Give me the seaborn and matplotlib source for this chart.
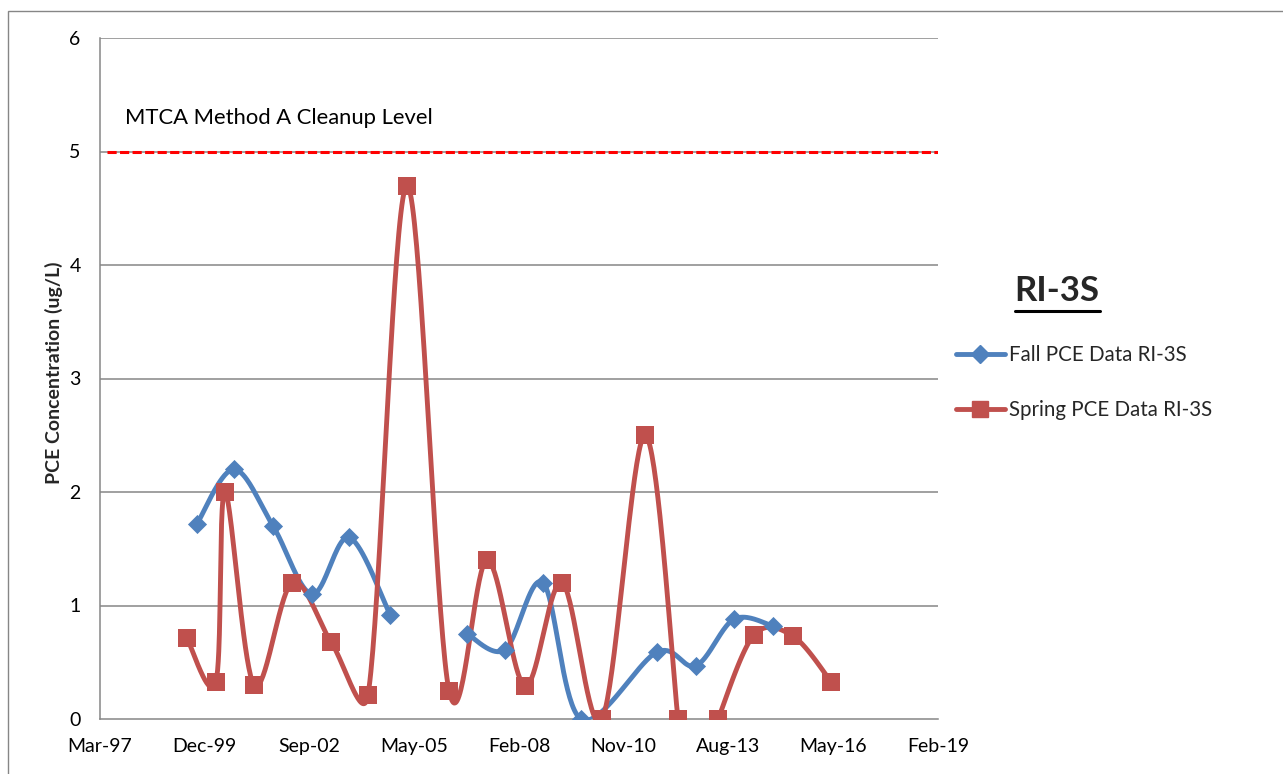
import numpy as np
import pandas as pd
import matplotlib
matplotlib.use("Agg")
import matplotlib.pyplot as plt
import matplotlib.dates as mdates
from matplotlib.lines import Line2D
from matplotlib.patches import Rectangle
import seaborn as sns

# ---------------- data ----------------
fall_dates = ["1999-09-23", "2000-09-10", "2001-09-18", "2002-09-25", "2003-09-13",
              "2004-10-08", "2005-10-01", "2006-10-14", "2007-10-11", "2008-10-08",
              "2009-10-06", "2011-10-01", "2012-10-08", "2013-10-06", "2014-10-13"]
fall_values = [1.72, 2.2, 1.7, 1.1, 1.6, 0.92, None, 0.75, 0.61, 1.2, 0.0, 0.59, 0.47,
               0.88, 0.82]

spring_dates = ["1999-06-19", "2000-03-22", "2000-06-16", "2001-03-20", "2002-03-18",
                "2003-03-25", "2004-03-12", "2005-03-20", "2006-04-25", "2007-04-22",
                "2008-04-19", "2009-04-07", "2010-04-24", "2011-06-09", "2012-04-19",
                "2012-10-15", "2013-05-06", "2014-04-14", "2015-04-22", "2016-04-19"]
spring_values = [0.71, 0.33, 2.0, 0.30, 1.2, 0.68, 0.21, 4.7, 0.25, 1.4, 0.29, 1.2,
                 0.0, 2.5, 0.0, None, 0.0, 0.74, 0.73, 0.33]

cleanup_level = 5.0
cleanup_label = "MTCA Method A Cleanup Level"
fall_label = "Fall PCE Data RI-3S"
spring_label = "Spring PCE Data RI-3S"
well_title = "RI-3S"
y_label = "PCE Concentration (ug/L)"
y_ticks = [0, 1, 2, 3, 4, 5, 6]
x_axis_start = "1997-03-11"
x_major_days = 1000
x_tick_count = 9

# ---------------- style ----------------
W, H = 1283, 774
sns.set_theme(style="white")
plt.rcParams['font.family'] = ['Lato', 'DejaVu Sans']

BLUE = "#4F81BD"
RED = "#C0504D"
GRID = "#868686"

fig = plt.figure(figsize=(W / 100, H / 100), dpi=100)
fig.patch.set_facecolor("white")
ax_l, ax_r, ax_t, ax_b = 100, 938, 38, 719
ax = fig.add_axes([ax_l / W, 1 - ax_b / H, (ax_r - ax_l) / W, (ax_b - ax_t) / H])

x0 = mdates.date2num(pd.Timestamp(x_axis_start))
xmax = x0 + x_major_days * (x_tick_count - 1)
ymax = 6.0
px_per_day = (ax_r - ax_l) / (xmax - x0)
px_per_unit = (ax_b - ax_t) / ymax


def _arm(vec, chord, limit=0.5):
    n = np.hypot(*vec)
    lim = limit * chord
    if n > lim and n > 0:
        vec = vec * (lim / n)
    return vec


def smooth_segments(dates, values):
    """Split at gaps and build Excel-like smoothed (Catmull-Rom Bezier) curves."""
    xs = mdates.date2num(pd.to_datetime(dates))
    segs, cur = [], []
    for x, v in zip(xs, values):
        if v is None:
            if cur:
                segs.append(cur)
            cur = []
        else:
            cur.append((x, v))
    if cur:
        segs.append(cur)
    rows = []
    for si, seg in enumerate(segs):
        P = np.array([[(x - x0) * px_per_day, v * px_per_unit] for x, v in seg])
        n = len(P)
        if n == 1:
            pts = P
        else:
            pts = []
            for i in range(n - 1):
                p0 = P[i - 1] if i > 0 else P[i]
                p1, p2 = P[i], P[i + 1]
                p3 = P[i + 2] if i + 2 < n else P[i + 1]
                chord = np.hypot(*(p2 - p1))
                c1 = p1 + _arm((p2 - p0) / 6.0, chord)
                c2 = p2 - _arm((p3 - p1) / 6.0, chord)
                t = np.linspace(0, 1, 40)[:, None]
                b = ((1 - t) ** 3) * p1 + 3 * ((1 - t) ** 2) * t * c1 + \
                    3 * (1 - t) * t ** 2 * c2 + t ** 3 * p2
                pts.append(b if i == 0 else b[1:])
            pts = np.vstack(pts)
        for px, py in pts:
            rows.append({"x": px / px_per_day + x0, "y": py / px_per_unit, "seg": si})
    curve = pd.DataFrame(rows)
    pts_df = pd.DataFrame({"x": xs, "y": values}).dropna()
    pts_df["y"] = pts_df["y"].astype(float)
    return curve, pts_df


fall_curve, fall_pts = smooth_segments(fall_dates, fall_values)
spring_curve, spring_pts = smooth_segments(spring_dates, spring_values)

# grid
for yv in y_ticks[1:]:
    ax.axhline(yv, color=GRID, lw=1.1, zorder=0)

# cleanup level
ax.axhline(cleanup_level, xmin=7 / (ax_r - ax_l), xmax=1, color="#FF0000", lw=2.2,
           dashes=(3.0, 1.1), zorder=1)
ax.text(25 / (ax_r - ax_l), (ax_b - 118) / (ax_b - ax_t), cleanup_label,
        transform=ax.transAxes, fontsize=15.8, color="black", va="center", ha="left")

# series lines
LW = 3.5
sns.lineplot(data=fall_curve, x="x", y="y", units="seg", estimator=None, sort=False,
             color=BLUE, lw=LW, ax=ax, legend=False, zorder=3)
sns.lineplot(data=spring_curve, x="x", y="y", units="seg", estimator=None, sort=False,
             color=RED, lw=LW, ax=ax, legend=False, zorder=4)
# markers
sns.scatterplot(data=fall_pts, x="x", y="y", marker="D", s=95, color=BLUE,
                edgecolor=BLUE, linewidth=0, ax=ax, legend=False, zorder=5)
sns.scatterplot(data=spring_pts, x="x", y="y", marker="s", s=160, color=RED,
                edgecolor=RED, linewidth=0, ax=ax, legend=False, zorder=6)

# axes
ax.set_xlim(x0, xmax)
ax.set_ylim(0, ymax)
ax.set_yticks(y_ticks)
ax.set_yticklabels([str(v) for v in y_ticks])
xt = [x0 + k * x_major_days for k in range(x_tick_count)]
ax.set_xticks(xt)
ax.set_xticklabels([mdates.num2date(v).strftime("%b-%y") for v in xt])
ax.tick_params(axis="both", labelsize=14, colors=GRID, labelcolor="black",
               length=6, width=1.1, direction="out")
ax.tick_params(axis="y", pad=8)
ax.tick_params(axis="x", pad=8)
ax.set_xlabel("")
ax.set_ylabel(y_label, fontsize=14, fontweight="bold")
ax.yaxis.set_label_coords((63 - ax_l) / (ax_r - ax_l), (ax_b - 373) / (ax_b - ax_t))
for s in ["top", "right"]:
    ax.spines[s].set_visible(False)
for s in ["left", "bottom"]:
    ax.spines[s].set_color(GRID)
    ax.spines[s].set_linewidth(1.1)
ax.grid(False)

# title at right
t = fig.text(1057 / W, 1 - 291 / H, well_title, fontsize=25, fontweight="bold",
             ha="center", va="center")

# legend
handles = [
    Line2D([0], [0], color=BLUE, lw=LW, marker="D", markersize=9.5),
    Line2D([0], [0], color=RED, lw=LW, marker="s", markersize=12),
]
fig.legend(handles, [fall_label, spring_label], loc="upper left",
           bbox_to_anchor=(948 / W, 1 - 337 / H), frameon=False, fontsize=14.8,
           handlelength=2.35, handletextpad=0.2, labelspacing=1.7, borderaxespad=0)

# underline title + outer border
fig.canvas.draw()
bb = t.get_window_extent()
uy = (bb.y0 - 4) / H
fig.add_artist(Line2D([bb.x0 / W, bb.x1 / W], [uy, uy], color="black", lw=2.2,
                      transform=fig.transFigure))
fig.add_artist(Rectangle((8 / W, -0.2), 1.5, 1 - 11 / H + 0.2, fill=False,
                         edgecolor=GRID, lw=1.0, transform=fig.transFigure))

fig.savefig("out.png", dpi=100, facecolor="white")
